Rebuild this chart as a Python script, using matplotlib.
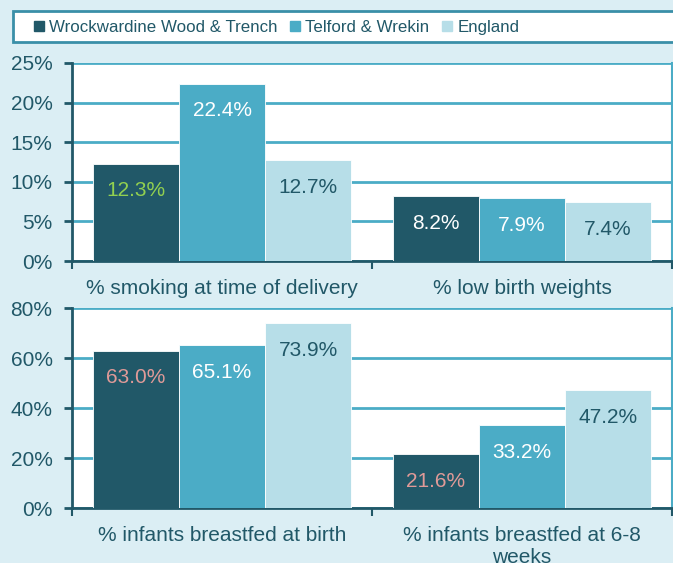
import matplotlib
matplotlib.use("Agg")
import matplotlib.pyplot as plt
from matplotlib.patches import Rectangle
import numpy as np

series = ["Wrockwardine Wood & Trench", "Telford & Wrekin", "England"]
top_cats = ["% smoking at time of delivery", "% low birth weights"]
top_vals = [[12.3, 8.2], [22.4, 7.9], [12.7, 7.4]]
bot_cats = ["% infants breastfed at birth", "% infants breastfed at 6-8\nweeks"]
bot_vals = [[63.0, 21.6], [65.1, 33.2], [73.9, 47.2]]
top_ticks = [0, 5, 10, 15, 20, 25]
bot_ticks = [0, 20, 40, 60, 80]

colors = ["#215868", "#4bacc6", "#b7dee8"]
label_colors_top = [["#92d050", "white"], ["white", "white"], ["#215868", "#215868"]]
label_colors_bot = [["#e09a98", "#e09a98"], ["white", "white"], ["#215868", "#215868"]]
bg = "#dbeef4"
txt = "#215868"
grid = "#4bacc6"

plt.rcParams['font.family'] = ['Liberation Sans', 'DejaVu Sans']

fig = plt.figure(figsize=(6.73, 5.63), dpi=100, facecolor=bg)

def make(ax, cats, vals, ticks, lcols, ymax):
    ax.set_facecolor("white")
    n = len(series)
    w = 0.86 / n
    x = np.arange(len(cats)) + 0.5
    for i in range(n):
        xs = x - 0.43 + w * (i + 0.5)
        bars = ax.bar(xs, vals[i], width=w, color=colors[i], zorder=3,
                      edgecolor="white", linewidth=0.6)
        for j, b in enumerate(bars):
            ax.annotate(f"{vals[i][j]:.1f}%", (b.get_x() + b.get_width() / 2, b.get_height()),
                        xytext=(0, -19.5), textcoords="offset points", ha="center", va="center",
                        fontsize=15, color=lcols[i][j], zorder=4)
    ax.set_xlim(0, len(cats))
    ax.set_ylim(0, ymax)
    ax.set_yticks(ticks)
    ax.set_yticklabels([f"{t}%" for t in ticks], fontsize=15, color=txt)
    ax.yaxis.grid(True, color=grid, linewidth=2, zorder=1)
    ax.set_xticks(np.arange(len(cats) + 1))
    ax.set_xticklabels([])
    ax.set_xticks(x, minor=True)
    ax.set_xticklabels(cats, minor=True, fontsize=15, color=txt, linespacing=1.2)
    ax.tick_params(axis="x", which="minor", length=0, pad=13)
    ax.tick_params(axis="x", which="major", length=6, width=1.5, color=txt, direction="out")
    ax.tick_params(axis="y", length=6, width=2, color=txt, pad=8)
    for s in ["left", "bottom"]:
        ax.spines[s].set_color(txt)
        ax.spines[s].set_linewidth(2)
    ax.spines["top"].set_visible(False)
    ax.spines["right"].set_color(grid)
    ax.spines["right"].set_linewidth(1.5)
    ax.set_axisbelow(True)

ax1 = fig.add_axes([72 / 673, 1 - 261 / 563, 600 / 673, 198 / 563])
make(ax1, top_cats, top_vals, top_ticks, label_colors_top, 25)
ax2 = fig.add_axes([72 / 673, 1 - 508 / 563, 600 / 673, 200 / 563])
make(ax2, bot_cats, bot_vals, bot_ticks, label_colors_bot, 80)

# legend box
fig.patches.append(Rectangle((13 / 673, 1 - 42 / 563), 700 / 673, 31 / 563,
                             transform=fig.transFigure, facecolor="white",
                             edgecolor="#3a8fa8", linewidth=2, zorder=0))
handles = [Rectangle((0, 0), 1, 1, color=c) for c in colors]
leg = fig.legend(handles, series, loc="center left", bbox_to_anchor=(27 / 673, 1 - 27.5 / 563),
                 ncol=3, frameon=False, handlelength=0.6, handleheight=0.6,
                 handletextpad=0.3, columnspacing=0.75, borderaxespad=0,
                 prop={'family': ['Liberation Sans'], 'size': 12.2})
for t in leg.get_texts():
    t.set_color(txt)

fig.savefig("out.png", dpi=100, facecolor=bg)
